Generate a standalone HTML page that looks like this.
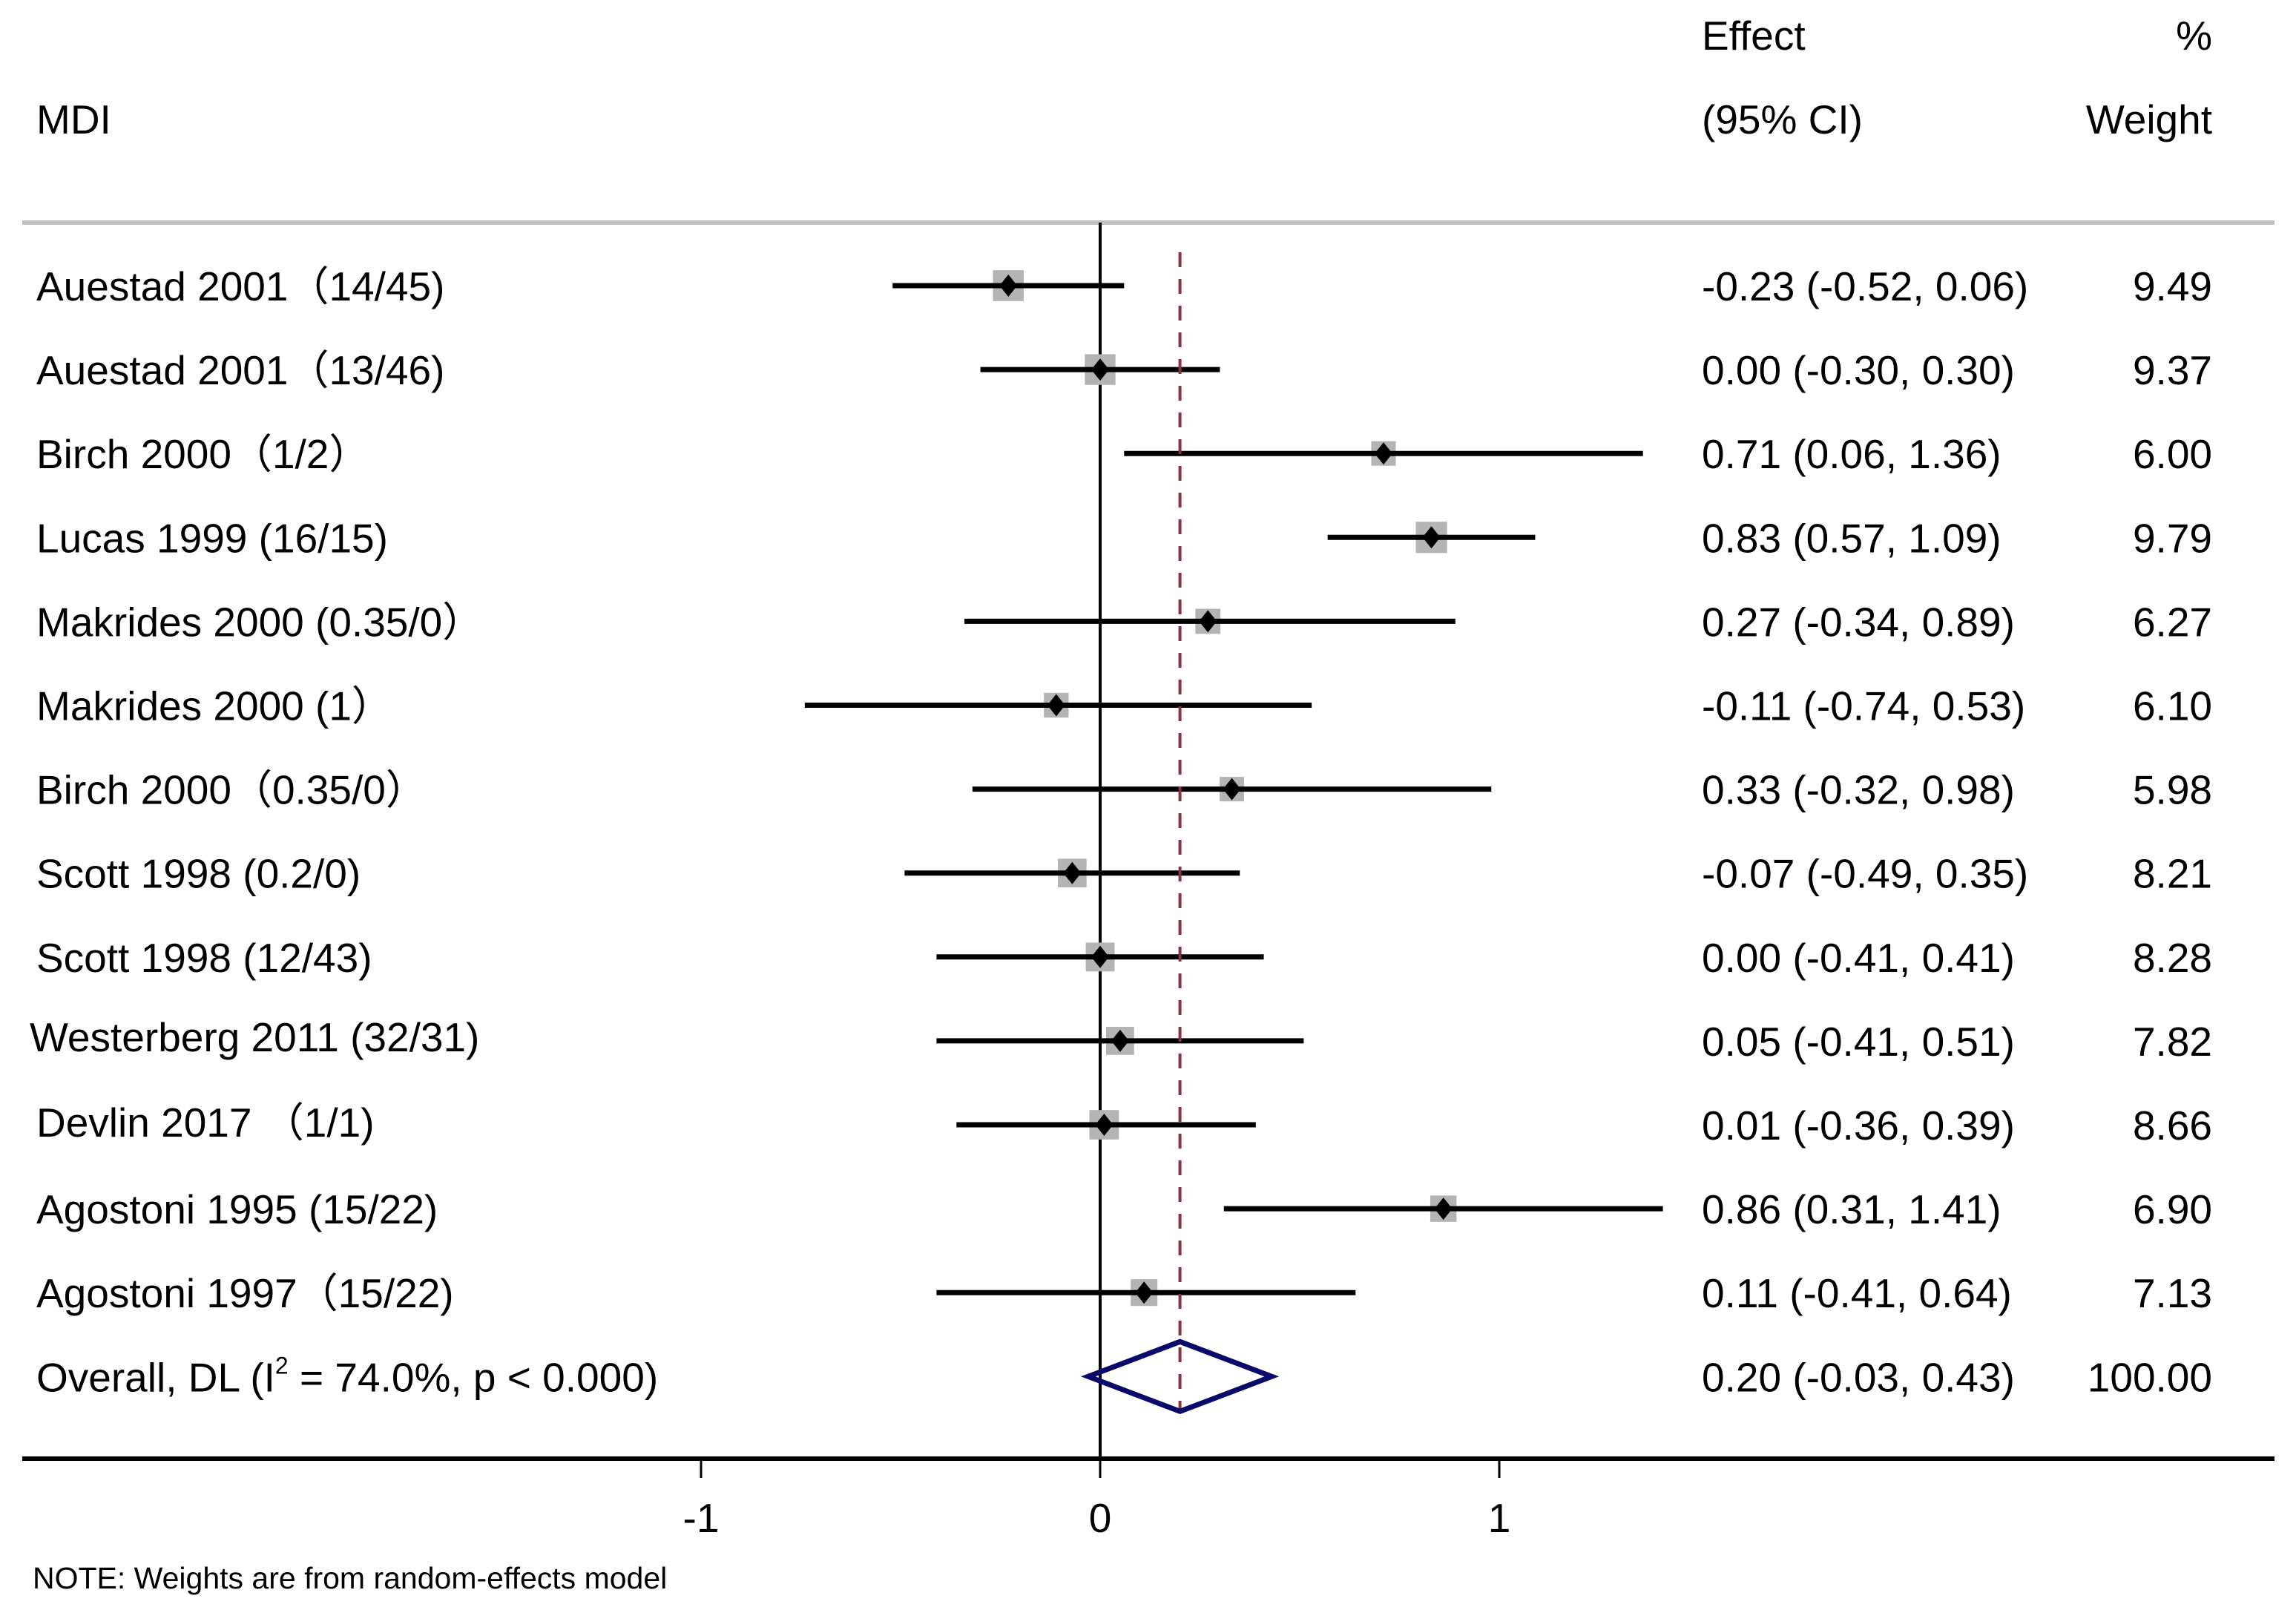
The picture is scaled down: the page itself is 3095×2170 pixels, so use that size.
<!DOCTYPE html>
<html><head><meta charset="utf-8"><style>
html,body{margin:0;padding:0;background:#fff}
svg{display:block}
text{font-family:"Liberation Sans","Noto Sans CJK SC",sans-serif;fill:#000}
</style></head><body>
<svg id="chart" width="3095" height="2170" viewBox="0 0 3095 2170" xmlns="http://www.w3.org/2000/svg">
<rect width="3095" height="2170" fill="#fff"/>
<text x="2294" y="67" font-size="55">Effect</text>
<text x="2294" y="180" font-size="55">(95% CI)</text>
<text x="2982" y="67" font-size="55" text-anchor="end">%</text>
<text x="2982" y="180" font-size="55" text-anchor="end">Weight</text>
<text x="49" y="180" font-size="55">MDI</text>
<rect x="30" y="297" width="3036" height="6" fill="#c0c0c0"/>
<g id="marks"></g>
<rect x="30" y="1963" width="3036" height="6" fill="#000"/>
<g id="axis"></g>
<text x="44" y="2141" font-size="41">NOTE: Weights are from random-effects model</text>
</svg>
<script>
const labels = ["Auestad 2001（14/45)","Auestad 2001（13/46)","Birch 2000（1/2）","Lucas 1999 (16/15)","Makrides 2000 (0.35/0）","Makrides 2000 (1）","Birch 2000（0.35/0）","Scott 1998 (0.2/0)","Scott 1998 (12/43)","Westerberg 2011 (32/31)","Devlin 2017 （1/1)","Agostoni 1995 (15/22)","Agostoni 1997（15/22)"];
const effects = [-0.23,0.00,0.71,0.83,0.27,-0.11,0.33,-0.07,0.00,0.05,0.01,0.86,0.11];
const lows = [-0.52,-0.30,0.06,0.57,-0.34,-0.74,-0.32,-0.49,-0.41,-0.41,-0.36,0.31,-0.41];
const highs = [0.06,0.30,1.36,1.09,0.89,0.53,0.98,0.35,0.41,0.51,0.39,1.41,0.64];
const weights = [9.49,9.37,6.00,9.79,6.27,6.10,5.98,8.21,8.28,7.82,8.66,6.90,7.13];
const overall = [0.20,-0.03,0.43];
const overallWeight = "100.00";
const tickValues = [-1,0,1];
const tickLabels = ["-1","0","1"];

const NS="http://www.w3.org/2000/svg";
const X0=1483, UNIT=538, Y0=385, DY=113.1;
const xs=v=>X0+v*UNIT, ys=i=>Y0+i*DY;
const marks=document.getElementById('marks'), axis=document.getElementById('axis');
function mk(tag,attrs,parent){const e=document.createElementNS(NS,tag);for(const k in attrs)e.setAttribute(k,attrs[k]);parent.appendChild(e);return e;}
const f=v=>v.toFixed(2);
const labelDx=[0,0,0,0,0,0,0,0,0,-9,0,0,0];
const labelDy=[0,0,0,0,0,0,0,0,0,-6,-4,0,0];

let zl=mk('line',{x1:xs(0),x2:xs(0),y1:300,y2:1966,stroke:'#000','stroke-width':4},marks);



labels.forEach((lab,i)=>{
  const y=ys(i);
  let t=mk('text',{x:49+labelDx[i],y:y+20+labelDy[i],'font-size':55},marks);t.textContent=lab;
  
  
  let s=Math.sqrt(weights[i])*13.5;
  let sq=mk('rect',{x:xs(effects[i])-s/2,y:y-s/2,width:s,height:s,fill:'#b4b4b4'},marks);
  
  
  let ci=mk('line',{x1:xs(lows[i]),x2:xs(highs[i]),y1:y,y2:y,stroke:'#000','stroke-width':7},marks);
  
  
  const cx=xs(effects[i]);
  let d=mk('polygon',{points:`${cx},${y-15} ${cx+12},${y} ${cx},${y+15} ${cx-12},${y}`,fill:'#000'},marks);
  
  
  let e=mk('text',{x:2294,y:y+20,'font-size':55},marks);
  e.textContent=`${f(effects[i])} (${f(lows[i])}, ${f(highs[i])})`;
  
  
  let w=mk('text',{x:2982,y:y+20,'font-size':55,'text-anchor':'end'},marks);
  w.textContent=f(weights[i]);
  
  
});
const yo=ys(labels.length);
let ov=mk('text',{x:49,y:yo+20,'font-size':55},marks);
ov.innerHTML='Overall, DL (I<tspan font-size="32" dy="-24">2</tspan><tspan dy="24"> = 74.0%, p &lt; 0.000)</tspan>';


let dl=mk('line',{x1:xs(overall[0]),x2:xs(overall[0]),y1:340,y2:1900,stroke:'#8b3440','stroke-width':4,'stroke-dasharray':'20 16'},marks);


let dia=mk('polygon',{points:`${xs(overall[1])},${yo} ${xs(overall[0])},${yo-47} ${xs(overall[2])},${yo} ${xs(overall[0])},${yo+47}`,fill:'none',stroke:'#0a0a6a','stroke-width':7},marks);


let oe=mk('text',{x:2294,y:yo+20,'font-size':55},marks);
oe.textContent=`${f(overall[0])} (${f(overall[1])}, ${f(overall[2])})`;


let ow=mk('text',{x:2982,y:yo+20,'font-size':55,'text-anchor':'end'},marks);
ow.textContent=overallWeight;



tickValues.forEach((v,i)=>{
  let tk=mk('line',{x1:xs(v),x2:xs(v),y1:1966,y2:1992,stroke:'#000','stroke-width':3},axis);
  
  
  let tl=mk('text',{x:xs(v),y:2065,'font-size':55,'text-anchor':'middle'},axis);
  tl.textContent=tickLabels[i];
  
  
});
</script>
</body></html>
